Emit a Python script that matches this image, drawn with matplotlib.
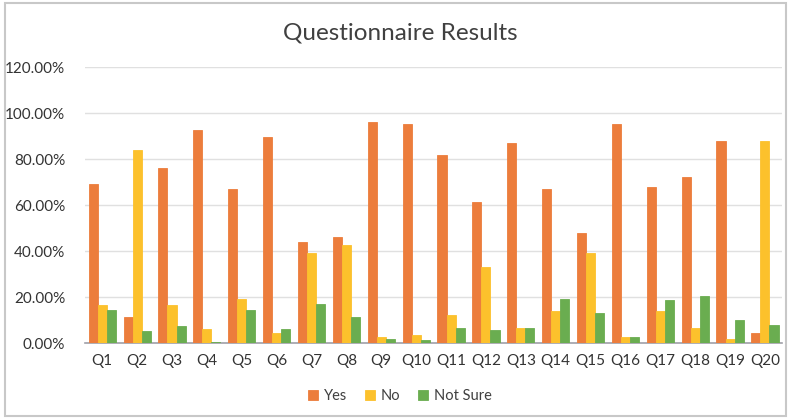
import numpy as np
import matplotlib.pyplot as plt
from matplotlib.patches import Rectangle
from matplotlib.ticker import FuncFormatter

plt.rcParams['font.family'] = ['Lato', 'DejaVu Sans']

# Data (percent)
questions = [f"Q{i}" for i in range(1, 21)]
yes = [69, 11.5, 76, 92.5, 67, 89.5, 44, 46, 96, 95.3,
       81.8, 61.3, 87.2, 66.8, 48, 95.2, 68, 72.2, 87.7, 4.3]
no = [16.5, 84, 16.5, 6, 19, 4.5, 39.3, 42.5, 2.5, 3.5,
      12.3, 33, 6.4, 13.9, 39, 2.7, 13.9, 6.8, 2, 87.7]
not_sure = [14.3, 5.2, 7.3, 0.6, 14.3, 6.2, 17, 11.2, 1.6, 1.2,
            6.4, 5.8, 6.8, 19.2, 13.3, 2.7, 18.8, 20.6, 10, 7.9]

series = [("Yes", yes, "#EC7D3C"), ("No", no, "#FCC12C"), ("Not Sure", not_sure, "#6AAD50")]

fig = plt.figure(figsize=(8, 4.19), dpi=100)
fig.patches.append(Rectangle((0.006, 0.008), 0.976, 0.985, transform=fig.transFigure,
                             fill=False, edgecolor="#c8c8c8", linewidth=1.5))
ax = fig.add_axes([0.106, 0.181, 0.872, 0.659])

x = np.arange(len(questions))
w = 0.26
for i, (name, vals, col) in enumerate(series):
    ax.bar(x + (i - 1) * w, vals, w, color=col, edgecolor=col, linewidth=0.6,
           label=name, zorder=3)

ax.set_xlim(-0.5, len(questions) - 0.5)
ax.set_ylim(0, 120)
ax.set_yticks(np.arange(0, 121, 20))
ax.yaxis.set_major_formatter(FuncFormatter(lambda v, p: f"{v:.2f}%"))
ax.set_xticks(x)
ax.set_xticklabels(questions)
ax.grid(axis='y', color="#e0e0e0", linewidth=1, zorder=0)
for s in ['top', 'right', 'left']:
    ax.spines[s].set_visible(False)
ax.spines['bottom'].set_color("#a0a0a8")
ax.spines['bottom'].set_linewidth(1.2)
ax.tick_params(axis='both', length=0, labelsize=11, colors="#333333", pad=8)
ax.tick_params(axis='y', pad=14)

fig.text(0.5, 0.922, "Questionnaire Results", ha='center', va='center',
         fontsize=17.5, color="#404040")
fig.legend(loc='center', bbox_to_anchor=(0.5, 0.055), ncol=3, frameon=False,
           fontsize=10.5, handlelength=0.7, handleheight=0.7, handletextpad=0.4,
           columnspacing=1.2, labelcolor="#404040")

fig.savefig("out.png", dpi=100)
